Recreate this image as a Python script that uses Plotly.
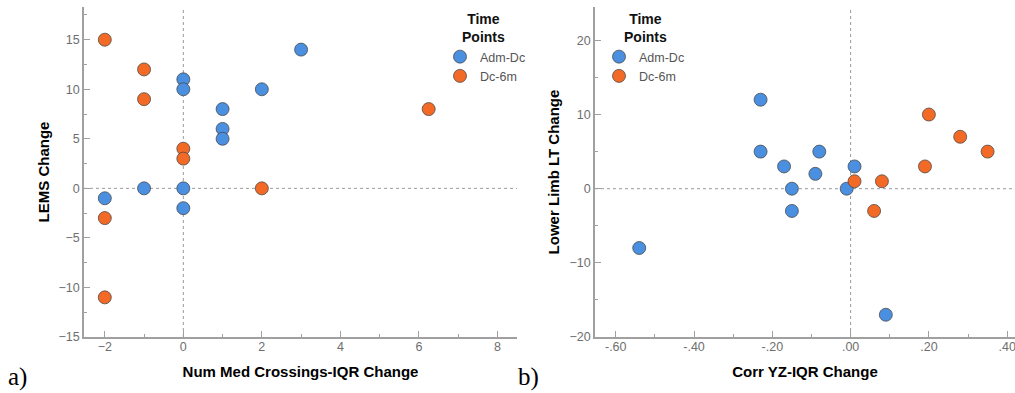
import plotly.graph_objects as go

# ---- data: panel a ----
a_adm_x = [-2, -1, 0, 0, 0, 0, 1, 1, 1, 2, 3]
a_adm_y = [-1, 0, 11, 10, 0, -2, 8, 6, 5, 10, 14]
a_dc_x = [-2, -2, -2, -1, -1, 0, 0, 2, 6.25]
a_dc_y = [15, -3, -11, 12, 9, 4, 3, 0, 8]

# ---- data: panel b ----
b_adm_x = [-0.54, -0.23, -0.23, -0.17, -0.15, -0.15, -0.08, -0.09, -0.01, 0.01, 0.09]
b_adm_y = [-8, 12, 5, 3, 0, -3, 5, 2, 0, 3, -17]
b_dc_x = [0.01, 0.08, 0.20, 0.28, 0.35, 0.19, 0.06]
b_dc_y = [1, 1, 10, 7, 5, 3, -3]

# ---- ticks ----
a_xticks = [-2, 0, 2, 4, 6, 8]
a_yticks = [-15, -10, -5, 0, 5, 10, 15]
b_xticks = [-0.6, -0.4, -0.2, 0.0, 0.2, 0.4]
b_xticklabels = ["-.60", "-.40", "-.20", ".00", ".20", ".40"]
b_yticks = [-20, -10, 0, 10, 20]

series_names = ["Adm-Dc", "Dc-6m"]
BLUE = "#4A8FE0"
ORANGE = "#F26A26"
W, H = 1015, 393

fig = go.Figure()

def mk(color):
    return dict(size=13, color=color, line=dict(color="rgba(70,70,70,0.75)", width=1))

fig.add_trace(go.Scatter(x=a_adm_x, y=a_adm_y, mode="markers", name=series_names[0],
                         marker=mk(BLUE), xaxis="x", yaxis="y", legend="legend"))
fig.add_trace(go.Scatter(x=a_dc_x, y=a_dc_y, mode="markers", name=series_names[1],
                         marker=mk(ORANGE), xaxis="x", yaxis="y", legend="legend"))
fig.add_trace(go.Scatter(x=b_adm_x, y=b_adm_y, mode="markers", name=series_names[0],
                         marker=mk(BLUE), xaxis="x2", yaxis="y2", legend="legend2"))
fig.add_trace(go.Scatter(x=b_dc_x, y=b_dc_y, mode="markers", name=series_names[1],
                         marker=mk(ORANGE), xaxis="x2", yaxis="y2", legend="legend2"))

AXC = "#A0A0A0"
TICKF = dict(family="Liberation Sans, Arial", size=12.5, color="#6E6E6E")
TITLEF = dict(family="Liberation Sans, Arial", size=15, color="#000000")

ydom = [1 - 337 / H, 1 - 7 / H]

def axis_common():
    return dict(showline=True, linecolor=AXC, linewidth=1.5, ticks="inside", ticklen=6,
                tickcolor=AXC, tickwidth=1, showgrid=False, zeroline=False,
                tickfont=TICKF, automargin=False, fixedrange=True)

LEGF = dict(family="Liberation Sans, Arial", size=12.5, color="#555555")

fig.update_layout(
    width=W, height=H,
    margin=dict(l=0, r=0, t=0, b=0),
    paper_bgcolor="white", plot_bgcolor="white",
    font=dict(family="Liberation Sans, Arial"),
    xaxis=dict(**axis_common(), domain=[84 / W, 517 / W], range=[-2.53, 8.5],
               tickmode="array", tickvals=a_xticks, ticklabelstandoff=-3,
               minor=dict(dtick=1, tick0=0, ticks="inside", ticklen=3, tickcolor=AXC),
               title=dict(text="<b>Num Med Crossings-IQR Change</b>", font=TITLEF, standoff=14),
               anchor="y"),
    yaxis=dict(**axis_common(), domain=ydom, range=[-15, 18.3],
               tickmode="array", tickvals=a_yticks,
               minor=dict(dtick=2.5, tick0=0, ticks="inside", ticklen=3, tickcolor=AXC),
               title=dict(text="<b>LEMS Change</b>", font=TITLEF, standoff=5),
               anchor="x"),
    xaxis2=dict(**axis_common(), domain=[595 / W, 1.0], range=[-0.653, 0.42],
                tickmode="array", tickvals=b_xticks, ticktext=b_xticklabels, ticklabelstandoff=-3,
                ticklabeloverflow="allow",
                minor=dict(dtick=0.1, tick0=0, ticks="inside", ticklen=3, tickcolor=AXC),
                title=dict(text="<b>Corr YZ-IQR Change</b>", font=TITLEF, standoff=14),
                anchor="y2"),
    yaxis2=dict(**axis_common(), domain=ydom, range=[-20, 24.5],
                tickmode="array", tickvals=b_yticks,
                minor=dict(dtick=5, tick0=0, ticks="inside", ticklen=3, tickcolor=AXC),
                title=dict(text="<b>Lower Limb LT Change</b>", font=TITLEF, standoff=6),
                anchor="x2"),
    legend=dict(x=440 / W, y=1 - 42 / H, xanchor="left", yanchor="top",
                bgcolor="rgba(0,0,0,0)", font=LEGF, itemwidth=30, tracegroupgap=0),
    legend2=dict(x=599 / W, y=1 - 42 / H, xanchor="left", yanchor="top",
                 bgcolor="rgba(0,0,0,0)", font=LEGF, itemwidth=30, tracegroupgap=0),
    showlegend=True,
)

# dotted reference lines at zero
for xr, yr in [("x", "y"), ("x2", "y2")]:
    fig.add_shape(type="line", xref=xr, yref=yr + " domain", x0=0, x1=0, y0=0, y1=1,
                  line=dict(color="#9A9A9A", width=1, dash="dot"), layer="below")
    fig.add_shape(type="line", xref=xr + " domain", yref=yr, x0=0, x1=1, y0=0, y1=0,
                  line=dict(color="#9A9A9A", width=1, dash="dot"), layer="below")

# legend titles and panel labels
LT = dict(family="Liberation Sans, Arial", size=14, color="#111111")
for cx in (483, 645):
    fig.add_annotation(text="<b>Time<br>Points</b>", x=cx / W, y=1 - 28 / H, xref="paper", yref="paper",
                       showarrow=False, font=LT, xanchor="center", yanchor="middle")

PL = dict(family="Liberation Serif, Times New Roman", size=25, color="#000000")
fig.add_annotation(text="a)", x=6 / W, y=1 - 377 / H, xref="paper", yref="paper",
                   showarrow=False, font=PL, xanchor="left", yanchor="middle")
fig.add_annotation(text="b)", x=516 / W, y=1 - 377 / H, xref="paper", yref="paper",
                   showarrow=False, font=PL, xanchor="left", yanchor="middle")

fig.write_html("out.html")
